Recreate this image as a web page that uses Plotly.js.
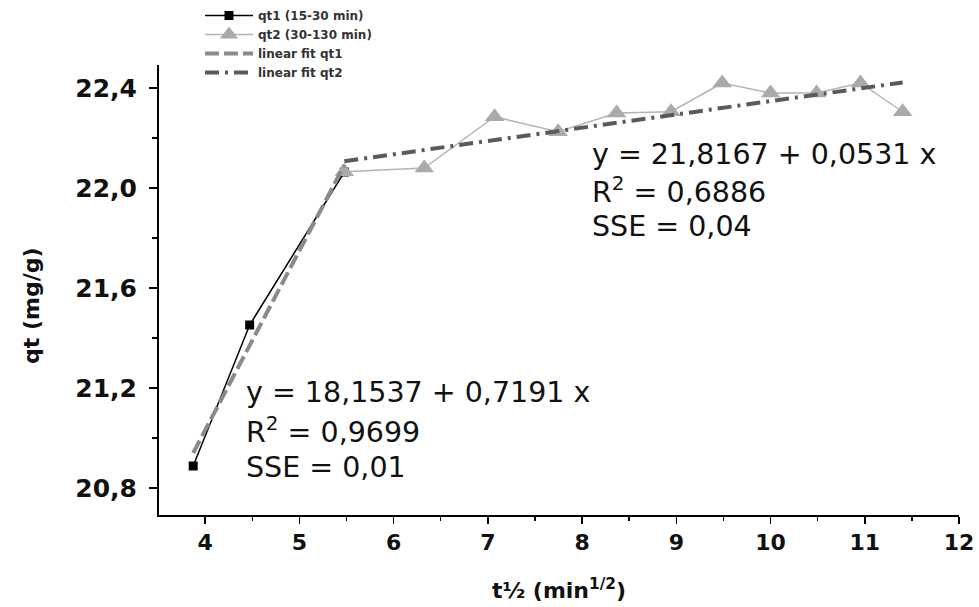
<!DOCTYPE html>
<html>
<head>
<meta charset="utf-8">
<script src="https://cdn.plot.ly/plotly-3.0.1.min.js"></script>
<style>html,body{margin:0;padding:0;background:#fff;}#chart{width:979px;height:607px;}</style>
</head>
<body>
<div id="chart"></div>
<script>
// qt1 (15-30 min): t^1/2 and qt values
const qt1X = [3.873, 4.472, 5.477];
const qt1Y = [20.888, 21.452, 22.064];
// qt2 (30-130 min)
const qt2X = [5.477, 6.325, 7.071, 7.746, 8.367, 8.944, 9.487, 10.0, 10.488, 10.954, 11.402];
const qt2Y = [22.065, 22.08, 22.285, 22.225, 22.30, 22.305, 22.42, 22.38, 22.38, 22.42, 22.305];
// linear fit end points
const fit1X = [3.873, 5.477];
const fit1Y = [20.94, 22.092];
const fit2X = [5.477, 11.402];
const fit2Y = [22.107, 22.422];
// series names
const names = ['qt1 (15-30 min)', 'qt2 (30-130 min)', 'linear fit qt1', 'linear fit qt2'];
// fit annotation texts
const fit1Text = ['y = 18,1537 + 0,7191 x', 'R<sup>2</sup> = 0,9699', 'SSE = 0,01'];
const fit2Text = ['y = 21,8167 + 0,0531 x', 'R<sup>2</sup> = 0,6886', 'SSE = 0,04'];
const yTitle = 'qt (mg/g)';
const xTitle = 't½ (min<sup>1/2</sup>)';

const traces = [
  {x: qt1X, y: qt1Y, name: names[0], type: 'scatter', mode: 'lines+markers',
   line: {color: '#000000', width: 1.5},
   marker: {symbol: 'square', size: 9, color: '#000000'}},
  {x: qt2X, y: qt2Y, name: names[1], type: 'scatter', mode: 'lines+markers',
   line: {color: '#b4b4b4', width: 1.5},
   marker: {symbol: 'triangle-up', size: 17, color: '#aaaaaa'}},
  {x: fit1X, y: fit1Y, name: names[2], type: 'scatter', mode: 'lines',
   line: {color: '#8a8a8a', width: 4, dash: '14px,5px'}},
  {x: fit2X, y: fit2Y, name: names[3], type: 'scatter', mode: 'lines',
   line: {color: '#5a5a5a', width: 4, dash: '14px,6px,3px,6px'}}
];

const pxX = v => (v - 159) / 800;
const pxY = v => (515 - v) / 450;
const annFont = {family: 'DejaVu Sans', size: 28.5, color: '#111'};
const annotations = [];
const left1 = [392, 430, 467];
const right1 = [154, 190, 226];
fit1Text.forEach((t, i) => annotations.push({xref: 'paper', yref: 'paper', x: pxX(245), y: pxY(left1[i]),
  xanchor: 'left', yanchor: 'middle', text: t, showarrow: false, font: annFont, borderpad: 0}));
fit2Text.forEach((t, i) => annotations.push({xref: 'paper', yref: 'paper', x: pxX(591), y: pxY(right1[i]),
  xanchor: 'left', yanchor: 'middle', text: t, showarrow: false, font: annFont, borderpad: 0}));
// y axis title placed as a rotated annotation (centre as in reference)
annotations.push({xref: 'paper', yref: 'paper', x: pxX(31), y: pxY(306), xanchor: 'center', yanchor: 'middle',
  textangle: -90, text: yTitle, showarrow: false,
  font: {family: 'DejaVu Sans', size: 22, weight: 'bold', color: '#111'}});

const layout = {
  width: 979, height: 607,
  margin: {l: 159, r: 20, t: 65, b: 92, autoexpand: false},
  paper_bgcolor: '#ffffff', plot_bgcolor: '#ffffff',
  separators: ',.',
  showlegend: true,
  legend: {x: pxX(200), y: pxY(1), xanchor: 'left', yanchor: 'top', bgcolor: 'rgba(0,0,0,0)',
    itemwidth: 48,
    font: {family: 'DejaVu Sans', size: 12, weight: 'bold', color: '#333'}, tracegroupgap: 0},
  xaxis: {
    range: [3.51, 12], tick0: 4, dtick: 1, showgrid: false, zeroline: false,
    showline: true, linecolor: '#000', linewidth: 2,
    ticks: 'outside', ticklen: 7, tickwidth: 1.5, tickcolor: '#000',
    minor: {dtick: 0.5, ticks: 'outside', ticklen: 4, tickwidth: 1.5, tickcolor: '#000', showgrid: false},
    ticklabelstandoff: 0,
    tickfont: {family: 'DejaVu Sans', size: 22, weight: 'bold', color: '#111'},
    title: {text: xTitle, standoff: 28,
      font: {family: 'DejaVu Sans', size: 22, weight: 'bold', color: '#111'}}
  },
  yaxis: {
    range: [20.692, 22.492], tick0: 20.8, dtick: 0.4, tickformat: '.1f', showgrid: false, zeroline: false,
    showline: true, linecolor: '#000', linewidth: 2,
    ticks: 'outside', ticklen: 8, tickwidth: 1.5, tickcolor: '#000',
    minor: {dtick: 0.2, ticks: 'outside', ticklen: 5, tickwidth: 1.5, tickcolor: '#000', showgrid: false},
    ticklabelstandoff: 7,
    tickfont: {family: 'DejaVu Sans', size: 25, weight: 'bold', color: '#111'}
  },
  annotations: annotations
};

Plotly.newPlot('chart', traces, layout, {displayModeBar: false, staticPlot: true});
</script>
</body>
</html>
